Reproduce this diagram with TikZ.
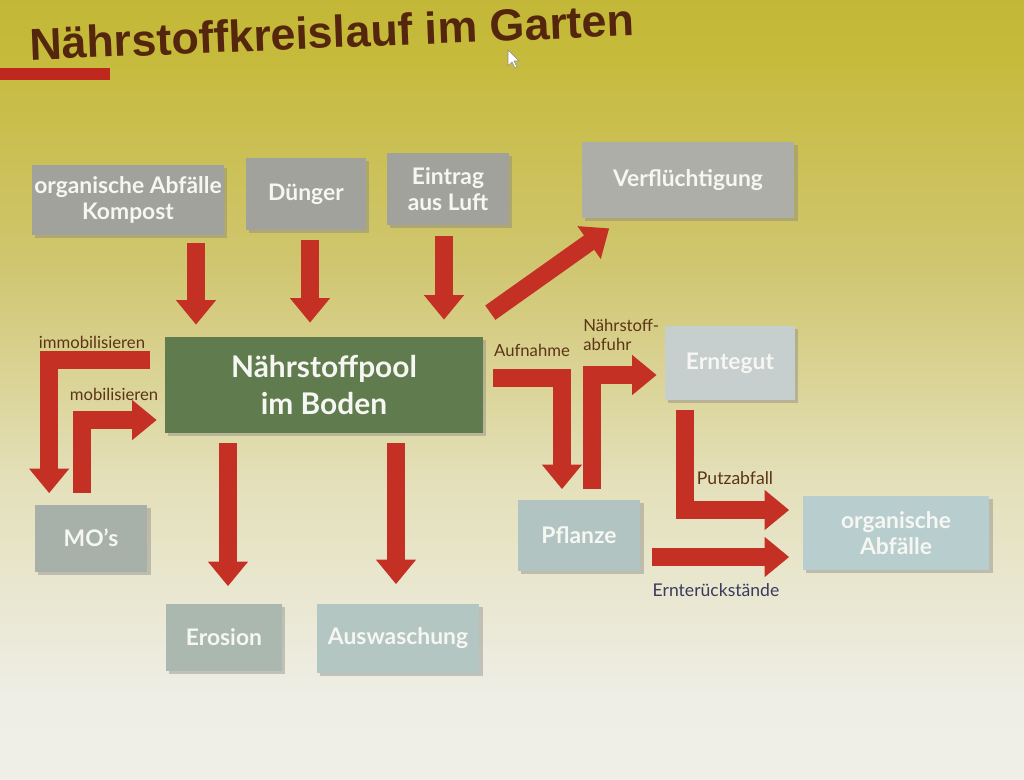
\documentclass[tikz,border=0pt]{standalone}
\usepackage{fontspec}
\setmainfont{Lato}
\newfontfamily\titelfont{Liberation Sans}
\usetikzlibrary{arrows.meta,calc,shadows}

\definecolor{folie0}{RGB}{247,247,245}
\definecolor{folie1}{RGB}{238,238,230}
\definecolor{folie2}{RGB}{228,224,186}
\definecolor{folie3}{RGB}{208,198,112}
\definecolor{folie4}{RGB}{198,186,58}
\definecolor{folie5}{RGB}{184,172,44}
\definecolor{folie6}{RGB}{164,152,36}
\pgfdeclareverticalshading{folie}{100bp}{color(0bp)=(folie0); color(30bp)=(folie1); color(44bp)=(folie2); color(58bp)=(folie3); color(72bp)=(folie4); color(88bp)=(folie5); color(100bp)=(folie6)}

\definecolor{titelbraun}{RGB}{84,38,14}
\definecolor{balkenrot}{RGB}{190,40,30}
\definecolor{pfeilrot}{RGB}{196,48,36}
\definecolor{labelbraun}{RGB}{92,52,22}
\definecolor{labelblau}{RGB}{58,58,92}
\definecolor{boxtext}{RGB}{246,246,242}
\definecolor{grauoben}{RGB}{162,162,156}
\definecolor{grauhell}{RGB}{174,174,168}
\definecolor{poolgruen}{RGB}{96,124,78}
\definecolor{ernte}{RGB}{198,206,206}
\definecolor{mograu}{RGB}{168,176,170}
\definecolor{pflanzegrau}{RGB}{178,196,194}
\definecolor{abfallgrau}{RGB}{184,206,206}
\definecolor{erosiongrau}{RGB}{170,184,176}
\definecolor{auswgrau}{RGB}{180,198,194}

\tikzset{
  box/.style={rectangle, fill=#1, text=boxtext, align=center, inner sep=0pt,
    font=\bfseries\fontsize{13}{15}\selectfont,
    drop shadow={opacity=0.4, shadow xshift=1.8pt, shadow yshift=-1.8pt}},
  pfeil/.style={draw=pfeilrot, line width=10pt, line join=miter,
    -{Triangle[width=22pt,length=14pt]}},
  marke/.style={font=\fontsize{9.5}{11}\selectfont, text=labelbraun, inner sep=0pt}
}

\begin{document}
\begin{tikzpicture}[x=0.02cm, y=-0.02cm]
\useasboundingbox (0,0) rectangle (1024,779);
\shade[shading=folie] (0,0) rectangle (1024,779);

% Titel
\node[font=\titelfont\bfseries\fontsize{25.5}{28}\selectfont, text=titelbraun, rotate=2.3] (titel) at (332,32) {Nährstoffkreislauf im Garten};
\fill[balkenrot] (0,68) rectangle (110,80);
\filldraw[fill=white, draw=black!45, line width=0.3pt] (508,50) -- ++(0,16) -- ++(4,-4) -- ++(3,6) -- ++(2,-1) -- ++(-3,-6) -- ++(5,0) -- cycle;

% Kaesten
\node[box=grauoben, minimum width=3.84cm, minimum height=1.4cm] (kompost) at (128,200) {organische Abfälle\\Kompost};
\node[box=grauoben, minimum width=2.4cm, minimum height=1.44cm] (duenger) at (306,194) {Dünger};
\node[box=grauoben, minimum width=2.44cm, minimum height=1.44cm] (luft) at (448,189) {Eintrag\\aus Luft};
\node[box=grauhell, minimum width=4.26cm, minimum height=1.52cm] (verfl) at (688,180) {Verflüchtigung};
\node[box=poolgruen, minimum width=6.36cm, minimum height=1.92cm, font=\bfseries\fontsize{17}{21}\selectfont] (pool) at (324,385) {Nährstoffpool\\im Boden};
\node[box=ernte, minimum width=2.6cm, minimum height=1.48cm] (erntegut) at (730,363) {Erntegut};
\node[box=mograu, minimum width=2.26cm, minimum height=1.34cm] (mo) at (91,538) {MO’s};
\node[box=pflanzegrau, minimum width=2.46cm, minimum height=1.42cm] (pflanze) at (579,535) {Pflanze};
\node[box=abfallgrau, minimum width=3.74cm, minimum height=1.48cm] (abfall) at (896,533) {organische\\Abfälle};
\node[box=erosiongrau, minimum width=2.32cm, minimum height=1.34cm] (erosion) at (224,637) {Erosion};
\node[box=auswgrau, minimum width=3.26cm, minimum height=1.38cm] (ausw) at (398,638) {Auswaschung};

% Pfeile
\draw[pfeil] ($(kompost.south)+(68,8)$) -- ($(kompost.south|-pool.north)+(68,-12)$);
\draw[pfeil] ($(duenger.south)+(4,10)$) -- ($(duenger.south|-pool.north)+(4,-14)$);
\draw[pfeil] ($(luft.south)+(-4,11)$) -- ($(luft.south|-pool.north)+(-4,-17)$);
\draw[pfeil] ($(pool.north east)+(7,-24)$) -- ($(verfl.south west)+(28,10)$);
\draw[pfeil] ($(pool.south)+(-96,10)$) -- ($(erosion.north)+(4,-17)$);
\draw[pfeil] ($(pool.south)+(72,10)$) -- ($(ausw.north)+(-2,-19)$);
\draw[pfeil] ($(pool.west)+(-15,-25)$) -| ($(mo.north west)+(15,-11)$);
\draw[pfeil] ($(mo.north)+(-9,-11)$) |- ($(pool.west)+(-8,35)$);
\draw[pfeil] ($(pool.east)+(10,-7)$) -| ($(pflanze.north)+(-17,-10)$);
\draw[pfeil] ($(pflanze.north)+(13,-10)$) |- ($(erntegut.west)+(-8,12)$);
\draw[pfeil] ($(erntegut.south)+(-45,10)$) |- ($(abfall.west)+(-13,-23)$);
\draw[pfeil] ($(pflanze.east)+(11,22)$) -- ($(abfall.west)+(-13,24)$);

% Beschriftungen
\node[marke] (immo) at (92,342) {immobilisieren};
\node[marke] (mobi) at (114,394) {mobilisieren};
\node[marke] (aufn) at (532,350) {Aufnahme};
\node[marke, align=left, anchor=west] (abfuhr) at (583,335) {Nährstoff-\\abfuhr};
\node[marke, font=\fontsize{10}{12}\selectfont] (putz) at (735,478) {Putzabfall};
\node[marke, text=labelblau, font=\fontsize{10}{12}\selectfont] (rueck) at (716,590) {Ernterückstände};
\end{tikzpicture}
\end{document}
